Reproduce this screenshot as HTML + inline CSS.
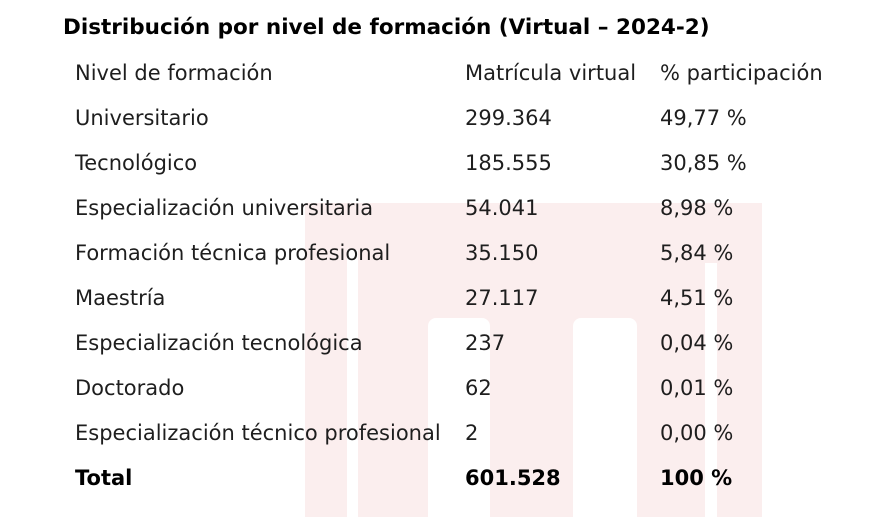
<!DOCTYPE html>
<html><head><meta charset="utf-8"><style>
body{margin:0;width:880px;height:517px;background:#fff;position:relative;overflow:hidden;font-family:"DejaVu Sans","Liberation Sans",sans-serif;color:#1e1e1e}
.w{position:absolute;background:#fbeeee}
.g{position:absolute;background:#fff}
.t{position:absolute;white-space:nowrap;font-size:21px;line-height:22px}
.b{font-weight:bold;color:#000}
</style></head><body>
<div class="w" style="left:305px;top:203px;width:457px;height:314px"></div>
<div class="g" style="left:347px;top:250px;width:11px;height:267px"></div>
<div class="g" style="left:705px;top:263px;width:12px;height:254px"></div>
<div class="g" style="left:428px;top:318px;width:62px;height:199px;border-radius:8px 8px 0 0"></div>
<div class="g" style="left:573px;top:318px;width:64px;height:199px;border-radius:8px 8px 0 0"></div>
<div class="t b" style="left:63px;top:16px;font-size:21.5px;line-height:24px">Distribución por nivel de formación (Virtual – 2024-2)</div>
<div class="t" style="left:75px;top:62px">Nivel de formación</div><div class="t" style="left:465px;top:62px">Matrícula virtual</div><div class="t" style="left:660px;top:62px">% participación</div>
<div class="t" style="left:75px;top:107px">Universitario</div><div class="t" style="left:465px;top:107px">299.364</div><div class="t" style="left:660px;top:107px">49,77 %</div>
<div class="t" style="left:75px;top:152px">Tecnológico</div><div class="t" style="left:465px;top:152px">185.555</div><div class="t" style="left:660px;top:152px">30,85 %</div>
<div class="t" style="left:75px;top:197px">Especialización universitaria</div><div class="t" style="left:465px;top:197px">54.041</div><div class="t" style="left:660px;top:197px">8,98 %</div>
<div class="t" style="left:75px;top:242px">Formación técnica profesional</div><div class="t" style="left:465px;top:242px">35.150</div><div class="t" style="left:660px;top:242px">5,84 %</div>
<div class="t" style="left:75px;top:287px">Maestría</div><div class="t" style="left:465px;top:287px">27.117</div><div class="t" style="left:660px;top:287px">4,51 %</div>
<div class="t" style="left:75px;top:332px">Especialización tecnológica</div><div class="t" style="left:465px;top:332px">237</div><div class="t" style="left:660px;top:332px">0,04 %</div>
<div class="t" style="left:75px;top:377px">Doctorado</div><div class="t" style="left:465px;top:377px">62</div><div class="t" style="left:660px;top:377px">0,01 %</div>
<div class="t" style="left:75px;top:422px">Especialización técnico profesional</div><div class="t" style="left:465px;top:422px">2</div><div class="t" style="left:660px;top:422px">0,00 %</div>
<div class="t b" style="left:75px;top:467px">Total</div><div class="t b" style="left:465px;top:467px">601.528</div><div class="t b" style="left:660px;top:467px">100 %</div>
</body></html>
